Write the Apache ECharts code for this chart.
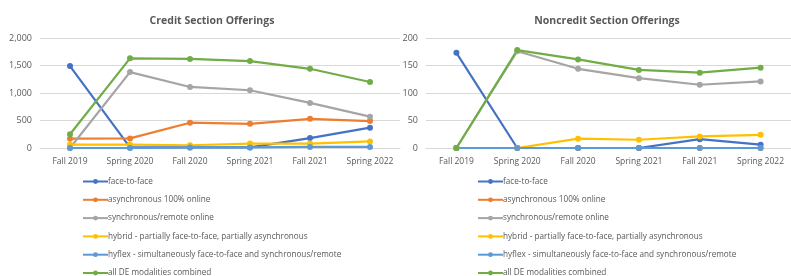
<!DOCTYPE html>
<html>
<head>
<meta charset="utf-8">
<script src="https://cdn.jsdelivr.net/npm/echarts@6/dist/echarts.min.js"></script>
<style>
  html, body { margin: 0; padding: 0; background: #fff; }
  #chart { width: 791px; height: 276px; }
</style>
</head>
<body>
<div id="chart"></div>
<script>
// terms on the x axis
const terms = ["Fall 2019", "Spring 2020", "Fall 2020", "Spring 2021", "Fall 2021", "Spring 2022"];
const modalities = [
  "face-to-face",
  "asynchronous 100% online",
  "synchronous/remote online",
  "hybrid - partially face-to-face, partially asynchronous",
  "hyflex - simultaneously face-to-face and synchronous/remote",
  "all DE modalities combined"
];
const colors = ["#4472C4", "#ED7D31", "#A5A5A5", "#FFC000", "#5B9BD5", "#70AD47"];

// credit section offerings
const creditFace = [1490, 10, 10, 10, 180, 370];
const creditAsync = [170, 175, 460, 440, 530, 490];
const creditSync = [0, 1380, 1110, 1050, 820, 570];
const creditHybrid = [60, 60, 50, 80, 80, 120];
const creditHyflex = [0, 0, 10, 10, 20, 20];
const creditAllDE = [250, 1630, 1620, 1580, 1440, 1200];
const creditTicks = [0, 500, 1000, 1500, 2000];

// noncredit section offerings
const noncreditFace = [173, 0, 0, 0, 16, 6];
const noncreditAsync = [0, 0, 0, 0, 0, 0];
const noncreditSync = [0, 176, 144, 127, 115, 121];
const noncreditHybrid = [0, 0, 17, 15, 21, 24];
const noncreditHyflex = [0, 0, 0, 0, 0, 0];
const noncreditAllDE = [0, 178, 161, 142, 137, 146];
const noncreditTicks = [0, 50, 100, 150, 200];

const credit = [creditFace, creditAsync, creditSync, creditHybrid, creditHyflex, creditAllDE];
const noncredit = [noncreditFace, noncreditAsync, noncreditSync, noncreditHybrid, noncreditHyflex, noncreditAllDE];

const font = "Open Sans, Liberation Sans, sans-serif";
const labelColor = "#595959";

function xAxis(gridIndex) {
  return {
    type: "category",
    gridIndex: gridIndex,
    data: terms,
    axisTick: { show: false },
    axisLine: { lineStyle: { color: "#D9D9D9" } },
    axisLabel: { color: labelColor, fontSize: 8.5, fontFamily: font, margin: 9, interval: 0 }
  };
}

function yAxis(gridIndex, ticks) {
  return {
    type: "value",
    gridIndex: gridIndex,
    min: ticks[0],
    max: ticks[ticks.length - 1],
    interval: ticks[1] - ticks[0],
    axisLine: { show: false },
    axisTick: { show: false },
    splitLine: { lineStyle: { color: "#D9D9D9" } },
    axisLabel: {
      color: labelColor, fontSize: 9, fontFamily: font, margin: 8,
      formatter: v => v.toLocaleString("en-US")
    }
  };
}

function makeSeries(values, idx) {
  return values.map((d, i) => ({
    name: modalities[i],
    type: "line",
    xAxisIndex: idx,
    yAxisIndex: idx,
    data: d,
    color: colors[i],
    symbol: "circle",
    symbolSize: 6,
    lineStyle: { width: 2.2 }
  }));
}

function legend(left) {
  return {
    orient: "vertical",
    left: left,
    top: 176,
    height: 120,
    padding: 0,
    itemWidth: 25,
    itemHeight: 6,
    itemGap: 7.3,
    data: modalities,
    textStyle: {
      color: labelColor, fontSize: 8.2, lineHeight: 11, fontFamily: font,
      padding: [0, 0, 0, -5]
    }
  };
}

const chart = echarts.init(document.getElementById("chart"));
chart.setOption({
  animation: false,
  title: [
    {
      text: "Credit Section Offerings", left: 207, top: 11, textAlign: "center",
      textStyle: { fontSize: 10.5, fontWeight: "bold", color: "#595959", fontFamily: font }
    },
    {
      text: "Noncredit Section Offerings", left: 602, top: 11, textAlign: "center",
      textStyle: { fontSize: 10.5, fontWeight: "bold", color: "#595959", fontFamily: font }
    }
  ],
  legend: [legend(82), legend(477)],
  grid: [
    { left: 40, top: 38, width: 360, height: 110 },
    { left: 426, top: 38, width: 365, height: 110 }
  ],
  xAxis: [xAxis(0), xAxis(1)],
  yAxis: [yAxis(0, creditTicks), yAxis(1, noncreditTicks)],
  series: makeSeries(credit, 0).concat(makeSeries(noncredit, 1))
});
</script>
</body>
</html>
